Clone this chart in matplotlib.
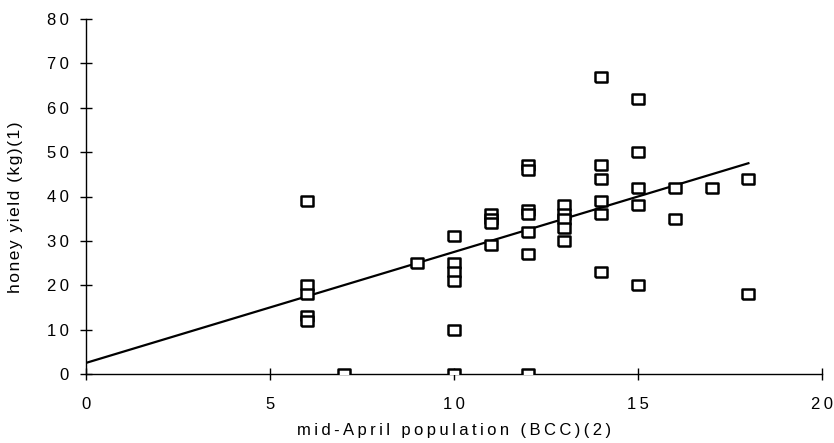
import matplotlib.pyplot as plt
import numpy as np

plt.rcParams['font.family'] = ['Liberation Sans', 'DejaVu Sans']

# bee population (BCC) and honey yield (kg)
population = [6, 6, 6, 6, 6,
              7,
              9,
              10, 10, 10, 10, 10, 10,
              11, 11, 11, 11,
              12, 12, 12, 12, 12, 12, 12,
              13, 13, 13, 13, 13,
              14, 14, 14, 14, 14, 14,
              15, 15, 15, 15, 15,
              16, 16,
              17,
              18, 18]
honey = [39, 20, 18, 13, 12,
         0,
         25,
         31, 25, 23, 21, 10, 0,
         36, 35, 34, 29,
         47, 46, 37, 36, 32, 27, 0,
         38, 36, 35, 33, 30,
         67, 47, 44, 39, 36, 23,
         62, 50, 42, 38, 20,
         42, 35,
         42,
         44, 18]

x_ticks = [0, 5, 10, 15, 20]
y_ticks = [0, 10, 20, 30, 40, 50, 60, 70, 80]

# trend line as drawn in the chart
fit_intercept = 2.5
fit_slope = 2.5
fit_range = [0, 18]


def spaced(s, gap='\u2009'):
    # the original chart uses wide letter spacing
    return gap.join(s)


fig = plt.figure(figsize=(8.34, 4.43), dpi=100)
ax = fig.add_axes([86 / 834, 1 - 374 / 443, 736 / 834, 355 / 443])

rect = [(-1.3, -1), (1.3, -1), (1.3, 1), (-1.3, 1), (-1.3, -1)]
ax.plot(population, honey, linestyle='none', marker=rect, markersize=9,
        markerfacecolor='white', markeredgecolor='black', markeredgewidth=1.8,
        zorder=3)

xs = np.array(fit_range)
ax.plot(xs, fit_intercept + fit_slope * xs, color='black', linewidth=1.6, zorder=2)

ax.set_xlim(0, 20)
ax.set_ylim(0, 80)
ax.set_xticks(x_ticks)
ax.set_xticklabels([spaced(str(v)) for v in x_ticks])
ax.set_yticks(y_ticks)
ax.set_yticklabels([spaced(str(v)) for v in y_ticks])
ax.spines['top'].set_visible(False)
ax.spines['right'].set_visible(False)
for s in ['left', 'bottom']:
    ax.spines[s].set_linewidth(1.0)
ax.tick_params(direction='inout', length=9, width=1.0, labelsize=12)
ax.tick_params(axis='x', pad=12)
ax.tick_params(axis='y', pad=8)

ax.set_xlabel(spaced('mid-April population (BCC)(2)'), fontsize=12, labelpad=8)
ax.set_ylabel(spaced('honey yield (kg)(1)', '\u200a'), fontsize=12.5, labelpad=15)
ax.yaxis.set_label_coords(-0.085, 0.47)

fig.savefig('out.png', dpi=100)
